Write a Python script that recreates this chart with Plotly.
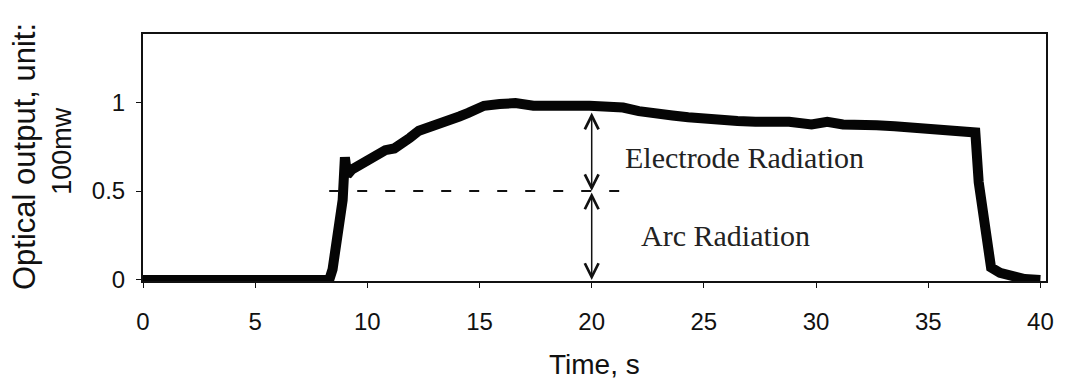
import plotly.graph_objects as go

# ---- data ----
time_s = [0, 2, 4, 6, 8.3, 8.45, 8.7, 8.9, 9.0, 9.1, 9.3, 9.6, 10.0, 10.4, 10.8, 11.2,
          11.5, 11.9, 12.3, 12.7, 13.0, 13.4, 13.7, 14.1, 14.5, 14.9, 15.2, 15.9, 16.6,
          17.4, 18.1, 18.9, 19.9, 20.6, 21.4, 22.1, 22.9, 23.6, 24.3, 25.0, 25.8, 26.5,
          27.3, 28.0, 28.8, 29.8, 30.5, 31.2, 32.0, 32.7, 33.5, 34.2, 35.0, 35.7, 36.5,
          37.1, 37.25, 37.4, 37.6, 37.8, 38.2, 38.7, 39.3, 40.0]
optical_output = [0, 0, 0, 0, 0, 0.06, 0.3, 0.45, 0.69, 0.59, 0.62, 0.64, 0.68, 0.70,
                  0.73, 0.74, 0.76, 0.80, 0.84, 0.86, 0.88, 0.89, 0.91, 0.92, 0.94, 0.96,
                  0.98, 0.99, 0.995, 0.98, 0.985, 0.98, 0.98, 0.975, 0.97, 0.95, 0.93,
                  0.925, 0.915, 0.905, 0.90, 0.895, 0.89, 0.89, 0.89, 0.875, 0.89, 0.875,
                  0.865, 0.87, 0.865, 0.86, 0.85, 0.845, 0.835, 0.83, 0.55, 0.4, 0.3,
                  0.07, 0.04, 0.02, 0.005, 0]
x_ticks = [0, 5, 10, 15, 20, 25, 30, 35, 40]
y_ticks = [0, 0.5, 1]
y_tick_text = ["0", "0.5", "1"]

arc_level = 0.5
marker_time = 20
curve_at_marker = 0.95

fig = go.Figure()
fig.add_trace(go.Scatter(x=time_s, y=optical_output, mode="lines",
                         line=dict(color="#050505", width=10), showlegend=False,
                         hoverinfo="skip"))

sans = "Liberation Sans, Arial, sans-serif"
serif = "Liberation Serif, Times New Roman, serif"

fig.update_layout(
    width=1066, height=390,
    margin=dict(l=143, r=13, t=34, b=109),
    paper_bgcolor="white", plot_bgcolor="white",
    font=dict(family=sans, color="#111", size=24),
    xaxis=dict(range=[0, 40.25], tickvals=x_ticks, showgrid=False, zeroline=False,
               showline=True, linecolor="#111", linewidth=2, mirror=True,
               ticks="outside", ticklen=5, tickcolor="#111",
               tickfont=dict(size=24, family=sans), ticklabelstandoff=13),
    yaxis=dict(range=[-0.006, 1.384], tickvals=y_ticks, ticktext=y_tick_text,
               showgrid=False, zeroline=False, showline=True, linecolor="#111",
               linewidth=2, mirror=True, ticks="outside", ticklen=5, tickcolor="#111",
               tickfont=dict(size=24, family=sans), ticklabelstandoff=6),
)

# dashed line at arc level
fig.add_shape(type="line", xref="x", yref="y", x0=8.3, x1=22.0, y0=arc_level, y1=arc_level,
              line=dict(color="#111", width=2, dash="10px,18px"))

# double-headed arrows
for (y_a, y_b) in [(0, arc_level), (arc_level, curve_at_marker)]:
    fig.add_annotation(x=marker_time, y=y_a, ax=marker_time, ay=y_b, axref="x", ayref="y",
                       xref="x", yref="y", text="", showarrow=True,
                       arrowhead=5, startarrowhead=5, arrowside="end+start",
                       arrowsize=1.8, startarrowsize=1.8, arrowwidth=1.5,
                       arrowcolor="#111", standoff=0, startstandoff=0)

fig.add_annotation(x=21.4, y=0.69, xref="x", yref="y", text="Electrode Radiation",
                   showarrow=False, xanchor="left", yanchor="middle",
                   font=dict(family=serif, size=30, color="#222"))
fig.add_annotation(x=22.1, y=0.25, xref="x", yref="y", text="Arc Radiation",
                   showarrow=False, xanchor="left", yanchor="middle",
                   font=dict(family=serif, size=30, color="#222"))

# axis titles
fig.add_annotation(x=0.5, y=-0.34, xref="paper", yref="paper", text="Time, s",
                   showarrow=False, xanchor="center", yanchor="middle",
                   font=dict(family=sans, size=28, color="#111"))
fig.add_annotation(x=-0.1318, y=0.506, xref="paper", yref="paper",
                   text="Optical output, unit:", textangle=-90, showarrow=False,
                   xanchor="center", yanchor="middle",
                   font=dict(family=sans, size=31, color="#111"))
fig.add_annotation(x=-0.0901, y=0.526, xref="paper", yref="paper", text="100mw",
                   textangle=-90, showarrow=False, xanchor="center", yanchor="middle",
                   font=dict(family=sans, size=27, color="#111"))

fig.write_html("out.html")
